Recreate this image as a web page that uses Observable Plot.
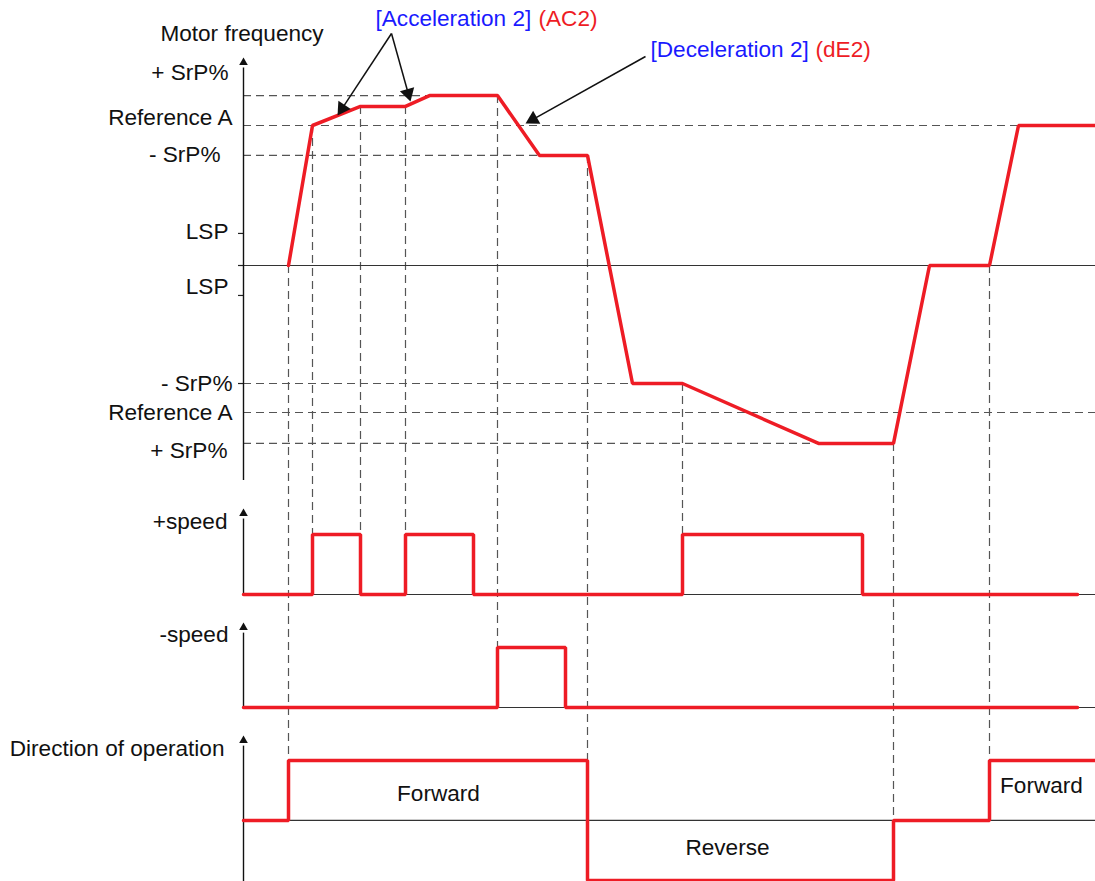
<!DOCTYPE html>
<html><head><meta charset="utf-8">
<script src="https://cdn.jsdelivr.net/npm/d3@7"></script>
<script src="https://cdn.jsdelivr.net/npm/@observablehq/plot@0.6"></script>
<style>html,body{margin:0;padding:0;background:#fff;overflow:hidden}</style>
</head><body><div id="chart"></div>
<script>
// ---- Data (time in ticks from the axis origin, frequency in % of Reference A) ----
const freqTime  = [45, 69, 117, 162, 186, 254, 296, 344, 389, 439, 575, 650, 686, 746, 775, 852];
const freqValue = [0, 100, 113.6, 113.6, 121.4, 121.4, 78.6, 78.6, -84.3, -84.3, -127.1, -127.1, 0, 0, 100, 100];

const plusSpeedTime  = [0, 69, 117, 162, 230, 439, 619, 834];
const plusSpeedValue = [0, 1, 0, 1, 0, 1, 0, 0];
const minusSpeedTime  = [0, 254, 322, 834];
const minusSpeedValue = [0, 1, 0, 0];
const directionTime  = [0, 45, 344, 650, 746, 852];
const directionValue = [0, 1, -1, 0, 1, 1];

// reference levels (horizontal dashed guides): value and time where guide ends
const levelValue = [121.4, 100, 78.6, -84.3, -105, -127.1];
const levelEnd   = [186, 852, 296, 389, 852, 575];

// level labels
const levelLabels = ["+ SrP%", "Reference A", "- SrP%", "LSP", "LSP", "- SrP%", "Reference A", "+ SrP%"];
const levelLabelT = [-15, -11, -23, -15, -15, -11, -11, -16];
const levelLabelF = [137.9, 105.7, 79.3, 24.3, -15, -84.3, -105, -132.1];
const tickValues = [22.9, 0, -21.4, -84.3];

// vertical guides: time, starting frequency, target lane, target logic level
const guideTime  = [45, 69, 117, 162, 254, 344, 439, 650, 746];
const guideFrom  = [0, 100, 113.6, 113.6, 121.4, 78.6, -84.3, -127.1, 0];
const guideLane  = ["dir", "plus", "plus", "plus", "minus", "dir", "plus", "dir", "dir"];
const guideLevel = [1, 1, 1, 1, 1, 1, 1, 0, 1];

// ---- Layout of lanes on the shared vertical scale ----
const LANE = {freq: 0, plus: -235, minus: -315.7, dir: -396.4};
const LOGIC_H = 42.86;
const KX = 1, KY = 1.4; // px per unit
const RED = "#ee1c25", BLUE = "#1a1aff", GUIDE = "#555", INK = "#111";
const FONT = "Liberation Sans, Arial, sans-serif";
const FS = 22.6;

const freq = freqTime.map((t, i) => ({t, f: freqValue[i]}));
const lane = (name, t, v) => t.map((x, i) => ({t: x, f: LANE[name] + v[i] * LOGIC_H}));
const plus = lane("plus", plusSpeedTime, plusSpeedValue);
const minus = lane("minus", minusSpeedTime, minusSpeedValue);
const dir = lane("dir", directionTime, directionValue);
const hGuides = levelValue.map((f, i) => ({f, end: levelEnd[i]}));
const vGuides = guideTime.map((t, i) => ({t, from: guideFrom[i], to: LANE[guideLane[i]] + guideLevel[i] * LOGIC_H}));
const labels = levelLabels.map((text, i) => ({text, t: levelLabelT[i], f: levelLabelF[i]}));
const axes = [
  {top: 145, bottom: -153.6},
  {top: -177.1, bottom: LANE.plus},
  {top: -258.6, bottom: LANE.minus},
  {top: -339.3, bottom: -440}
];
const baselines = [LANE.freq, LANE.plus, LANE.minus, LANE.dir];
const sideLabels = [
  {text: "+speed", t: -16, f: -182.9},
  {text: "-speed", t: -15, f: -263.6},
  {text: "Direction of operation", t: -19, f: -345}
];
const centerLabels = [
  {text: "Motor frequency", t: -1.5, f: 165.7},
  {text: "Forward", t: 195, f: -377.1},
  {text: "Reverse", t: 484, f: -415.7},
  {text: "Forward", t: 798, f: -371.4}
];
const notes = [
  {text: "[Acceleration 2]", t: 132, f: 176.4, fill: BLUE},
  {text: "(AC2)", t: 295, f: 176.4, fill: RED},
  {text: "[Deceleration 2]", t: 407, f: 154.3, fill: BLUE},
  {text: "(dE2)", t: 572, f: 154.3, fill: RED}
];
const arrowTail = [[148, 165.7], [148, 165.7], [402, 149.3]];
const arrowTip  = [[94, 107.1], [167, 117.1], [282, 101.4]];
const HEAD = 8.6;
const arrows = arrowTail.map((tail, i) => {
  const tip = arrowTip[i];
  const dx = (tip[0] - tail[0]) * KX, dy = -(tip[1] - tail[1]) * KY;
  const len = Math.hypot(dx, dy);
  return {
    t1: tail[0], f1: tail[1],
    tc: tip[0] - HEAD * dx / len / KX,
    fc: tip[1] + HEAD * dy / len / KY,
    rot: Math.atan2(dx, -dy) * 180 / Math.PI
  };
});

const chart = Plot.plot({
  width: 1095, height: 881, margin: 0,
  style: {fontFamily: FONT, background: "#fff"},
  x: {domain: [-243, 852], range: [0, 1095], axis: null},
  y: {domain: [-440, 189.286], range: [881, 0], axis: null},
  marks: [
    Plot.ruleY(hGuides, {y: "f", x1: 0, x2: "end", stroke: GUIDE, strokeWidth: 1.2, strokeDasharray: "8,5"}),
    Plot.ruleX(vGuides, {x: "t", y1: "from", y2: "to", stroke: GUIDE, strokeWidth: 1.2, strokeDasharray: "8,5"}),
    Plot.ruleY(baselines, {y: d => d, x1: 0, x2: 852, stroke: "#333", strokeWidth: 1.2}),
    Plot.ruleY(tickValues, {y: d => d, x1: -5, x2: 0, stroke: "#222", strokeWidth: 1.2}),
    Plot.ruleX(axes, {x: 0, y1: "bottom", y2: d => d.top - 4, stroke: INK, strokeWidth: 1.4}),
    Plot.dot(axes, {x: 0, y: "top", symbol: "triangle", r: 3.2, fill: INK, stroke: null}),
    Plot.line(freq, {x: "t", y: "f", stroke: RED, strokeWidth: 3.5, strokeLinejoin: "miter"}),
    Plot.line(plus, {x: "t", y: "f", curve: "step-after", stroke: RED, strokeWidth: 3.5, strokeLinejoin: "miter"}),
    Plot.line(minus, {x: "t", y: "f", curve: "step-after", stroke: RED, strokeWidth: 3.5, strokeLinejoin: "miter"}),
    Plot.line(dir, {x: "t", y: "f", curve: "step-after", stroke: RED, strokeWidth: 3.5, strokeLinejoin: "miter"}),
    Plot.text(labels, {x: "t", y: "f", text: "text", textAnchor: "end", fontSize: FS, fill: INK}),
    Plot.text(sideLabels, {x: "t", y: "f", text: "text", textAnchor: "end", fontSize: FS, fill: INK}),
    Plot.text(centerLabels, {x: "t", y: "f", text: "text", textAnchor: "middle", fontSize: FS, fill: INK}),
    Plot.text(notes, {x: "t", y: "f", text: "text", textAnchor: "start", fontSize: FS, fill: d => d.fill}),
    Plot.link(arrows, {x1: "t1", y1: "f1", x2: "tc", y2: "fc", stroke: INK, strokeWidth: 1.5}),
    Plot.dot(arrows, {x: "tc", y: "fc", symbol: "triangle", r: 5.5, rotate: "rot", fill: INK, stroke: null})
  ]
});
document.getElementById("chart").appendChild(chart);
</script>
</body></html>
